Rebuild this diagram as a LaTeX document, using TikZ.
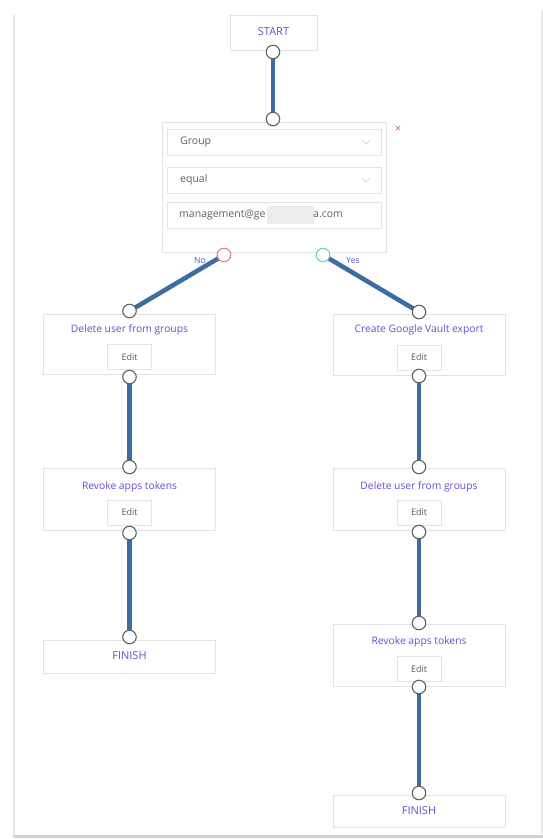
\documentclass[tikz,border=0pt]{standalone}
\usepackage{fontspec}
\setmainfont{Open Sans}
\usetikzlibrary{backgrounds}
\definecolor{titlec}{RGB}{92,82,214}
\definecolor{edgec}{RGB}{62,110,160}
\definecolor{boxc}{RGB}{226,226,226}
\definecolor{noc}{RGB}{225,130,130}
\definecolor{yesc}{RGB}{120,205,180}
\definecolor{xc}{RGB}{215,90,110}
\begin{document}
\begin{tikzpicture}[x=1pt,y=-1pt,
  card/.style={draw=boxc, fill=white, line width=0.7pt, rectangle, inner sep=0pt},
  ttl/.style={text=titlec, font=\fontsize{10.3}{12}\selectfont, inner sep=0pt},
  caps/.style={text=titlec, font=\fontsize{11}{12}\selectfont, inner sep=0pt},
  editbtn/.style={draw=boxc, fill=white, line width=0.6pt, minimum width=44pt, minimum height=25pt, inner sep=0pt, font=\fontsize{9}{10}\selectfont, text=black!65},
  port/.style={circle, draw=black!62, fill=white, line width=1.1pt, minimum size=13.5pt, inner sep=0pt},
  link/.style={draw=edgec, line width=4.6pt},
  field/.style={draw=boxc, fill=white, line width=0.6pt, minimum width=214pt, minimum height=26pt, inner sep=0pt},
  fieldtxt/.style={anchor=west, text=black!62, font=\fontsize{10.5}{12}\selectfont, inner sep=0pt},
  lbl/.style={text=titlec, font=\fontsize{8.5}{9}\selectfont, inner sep=0pt},
  chev/.style={draw=black!18, line width=0.7pt}
]
\useasboundingbox (0,0) rectangle (543,839);
% page frame
\fill[black!10] (13,15) rectangle (15,836);
\fill[black!8] (541,10) rectangle (543,836);
\fill[black!18] (13,835) rectangle (543,838);

% ports (main layer, on top)
\node[port] (sOut) at (273,52) {};
\node[port] (cIn) at (273,119) {};
\node[port, draw=noc] (cNo) at (224,255) {};
\node[port, draw=yesc] (cYes) at (323,255) {};
\node[port] (l1In) at (129.5,311) {};
\node[port] (l1Out) at (129.5,377) {};
\node[port] (l2In) at (129.5,467) {};
\node[port] (l2Out) at (129.5,533) {};
\node[port] (l3In) at (129.5,637) {};
\node[port] (r1In) at (419,312) {};
\node[port] (r1Out) at (419,376) {};
\node[port] (r2In) at (419,467) {};
\node[port] (r2Out) at (419,532) {};
\node[port] (r3In) at (419,623) {};
\node[port] (r3Out) at (419,687) {};
\node[port] (r4In) at (419,793) {};

\begin{scope}[on background layer]
% start
\node[card, minimum width=87pt, minimum height=35pt] (startbox) at (273.5,32.5) {};
\node[caps] (starttxt) at (273.5,32) {START};
% condition
\node[card, minimum width=224pt, minimum height=130pt] (cond) at (274,187) {};
\node[field] (fGroup) at (274,142) {};
\node[fieldtxt] (tGroup) at (180,142) {Group};
\draw[chev] (362,140) -- (366,144) -- (370,140);
\node[field] (fEq) at (274,180) {};
\node[fieldtxt] (tEq) at (180,180) {equal};
\draw[chev] (362,178) -- (366,182) -- (370,178);
\node[field] (fMail) at (274,215) {};
\node[fieldtxt] (tMail) at (179,215) {management@ge};
\fill[black!7] (267,206) rectangle (314,224);
\node[fieldtxt] (tMail2) at (313,215) {a.com};
\node[text=xc, font=\fontsize{11}{12}\selectfont, inner sep=0pt] (xmark) at (398,129) {×};
% left column
\node[card, minimum width=172pt, minimum height=60pt] (l1) at (129,344) {};
\node[ttl] (l1t) at (129.5,330) {Delete user from groups};
\node[editbtn] (l1e) at (129.5,357) {Edit};
\node[card, minimum width=172pt, minimum height=62pt] (l2) at (129,499) {};
\node[ttl] (l2t) at (129.5,487) {Revoke apps tokens};
\node[editbtn] (l2e) at (129.5,512.5) {Edit};
\node[card, minimum width=172pt, minimum height=33pt] (l3) at (129,656.5) {};
\node[caps] (l3t) at (129.5,656) {FINISH};
% right column
\node[card, minimum width=172pt, minimum height=61pt] (r1) at (419,344.5) {};
\node[ttl] (r1t) at (419,330) {Create Google Vault export};
\node[editbtn] (r1e) at (419,357.5) {Edit};
\node[card, minimum width=172pt, minimum height=62pt] (r2) at (419,499) {};
\node[ttl] (r2t) at (419,487) {Delete user from groups};
\node[editbtn] (r2e) at (419,512.5) {Edit};
\node[card, minimum width=172pt, minimum height=62pt] (r3) at (419,655) {};
\node[ttl] (r3t) at (419,642) {Revoke apps tokens};
\node[editbtn] (r3e) at (419,669) {Edit};
\node[card, minimum width=172pt, minimum height=32pt] (r4) at (419,811) {};
\node[caps] (r4t) at (419,811) {FINISH};
% connectors
\draw[link] (sOut.center) -- (cIn.center);
\draw[link] (cNo.center) -- (l1In.center);
\draw[link] (cYes.center) -- (r1In.center);
\draw[link] (l1Out.center) -- (l2In.center);
\draw[link] (l2Out.center) -- (l3In.center);
\draw[link] (r1Out.center) -- (r2In.center);
\draw[link] (r2Out.center) -- (r3In.center);
\draw[link] (r3Out.center) -- (r4In.center);
\end{scope}
% branch labels
\node[lbl] (noLbl) at (200,261) {No};
\node[lbl] (yesLbl) at (353,261) {Yes};
\end{tikzpicture}
\end{document}
